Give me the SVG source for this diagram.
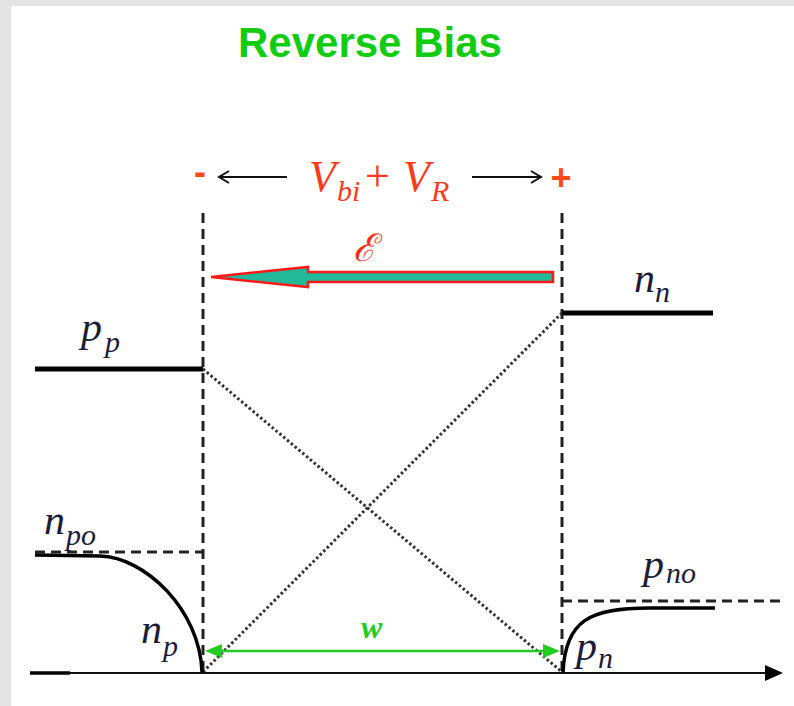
<svg xmlns="http://www.w3.org/2000/svg" width="794" height="706" viewBox="0 0 794 706">
<style>
.lbl{font-family:"Liberation Serif","Times New Roman",serif;font-style:italic;fill:#1c1c38}
.red{font-family:"Liberation Serif","Times New Roman",serif;font-style:italic;fill:#ff3a1c}
.dash{stroke:#222;stroke-width:3;stroke-dasharray:10,6;fill:none}
.dot{stroke:#333;stroke-width:3;stroke-dasharray:2.5,2.5;fill:none}
.thick{stroke:#000;stroke-width:5;fill:none}
.curve{stroke:#000;stroke-width:3.5;fill:none}
.thin{stroke:#111;stroke-width:2;fill:none}
</style>
<rect width="794" height="706" fill="#e4e4e4"/>
<rect x="11" y="6" width="783" height="700" fill="#fff"/>
<g id="title"><text x="238" y="57" font-family="Liberation Sans, Arial, sans-serif" font-weight="bold" font-size="42" fill="#11cc11">Reverse Bias</text></g>
<g id="voltage">
<text x="194" y="184" font-family="Liberation Sans, Arial, sans-serif" font-weight="bold" font-size="36" fill="#ff4a1a">-</text>
<text x="561" y="190" text-anchor="middle" font-family="Liberation Sans, Arial, sans-serif" font-weight="bold" font-size="36" fill="#ff4a1a">+</text>
<path class="thin" d="M287,177 H219 M229,171 L219,177 L229,183"/>
<path class="thin" d="M472,177 H541 M531,171 L541,177 L531,183"/>
<text class="red" x="309" y="191" font-size="44">V</text>
<text class="red" x="337" y="201" font-size="30">bi</text>
<text x="365" y="191" font-family="Liberation Serif, serif" font-size="44" fill="#ff3a1c">+</text>
<text class="red" x="403" y="191" font-size="44">V</text>
<text class="red" x="431" y="201" font-size="30">R</text>
</g>
<g id="field">
<text x="353" y="261" font-family="DejaVu Serif, serif" font-style="italic" font-size="38" fill="#ff2a1a">ℰ</text>
<polygon points="553,272 308,272 308,267 211,277 308,287 308,282 553,282" fill="#22b89a" stroke="#ff1a1a" stroke-width="2.5" stroke-linejoin="miter"/>
</g>
<g id="connectors">
<line class="dash" x1="203" y1="213" x2="203" y2="672"/>
<line class="dash" x1="562" y1="213" x2="562" y2="672"/>
<line class="dash" x1="35" y1="552" x2="203" y2="552"/>
<line class="dash" x1="562" y1="601" x2="783" y2="601"/>
<line class="dot" x1="203" y1="369" x2="562" y2="672"/>
<line class="dot" x1="562" y1="313" x2="203" y2="672"/>
</g>
<g id="pp"><line class="thick" x1="35" y1="369" x2="203" y2="369"/>
<text class="lbl" x="81" y="341" font-size="42">p</text><text class="lbl" x="105" y="352" font-size="30">p</text></g>
<g id="nn"><line class="thick" x1="562" y1="313" x2="713" y2="313"/>
<text class="lbl" x="634" y="292" font-size="42">n</text><text class="lbl" x="655" y="302" font-size="30">n</text></g>
<g id="npo"><path class="curve" d="M35,555 L100,556 C145,557 200,610 202,672"/>
<text class="lbl" x="44" y="534" font-size="42">n</text><text class="lbl" x="66" y="545" font-size="30">po</text></g>
<g id="np"><text class="lbl" x="141" y="643" font-size="42">n</text><text class="lbl" x="163" y="656" font-size="30">p</text></g>
<g id="pno"><path class="curve" d="M563,673 C565,620 590,608 650,608 L715,608"/>
<text class="lbl" x="643" y="578" font-size="42">p</text><text class="lbl" x="666" y="583" font-size="30">no</text></g>
<g id="pn"><text class="lbl" x="576" y="660" font-size="42">p</text><text class="lbl" x="598" y="668" font-size="30">n</text></g>
<g id="axis"><line x1="30" y1="673" x2="768" y2="673" stroke="#111" stroke-width="2"/>
<line x1="30" y1="673" x2="70" y2="673" stroke="#000" stroke-width="3.5"/>
<polygon points="783,673 765,665 765,681" fill="#000"/></g>
<g id="width"><line x1="218" y1="651" x2="547" y2="651" stroke="#22cc22" stroke-width="2.5"/>
<polygon points="205,651 222,644 222,658" fill="#22cc22"/>
<polygon points="560,651 543,644 543,658" fill="#22cc22"/>
<text x="361" y="638" font-family="Liberation Serif, serif" font-style="italic" font-weight="bold" font-size="32" fill="#22cc22">w</text></g>
</svg>
